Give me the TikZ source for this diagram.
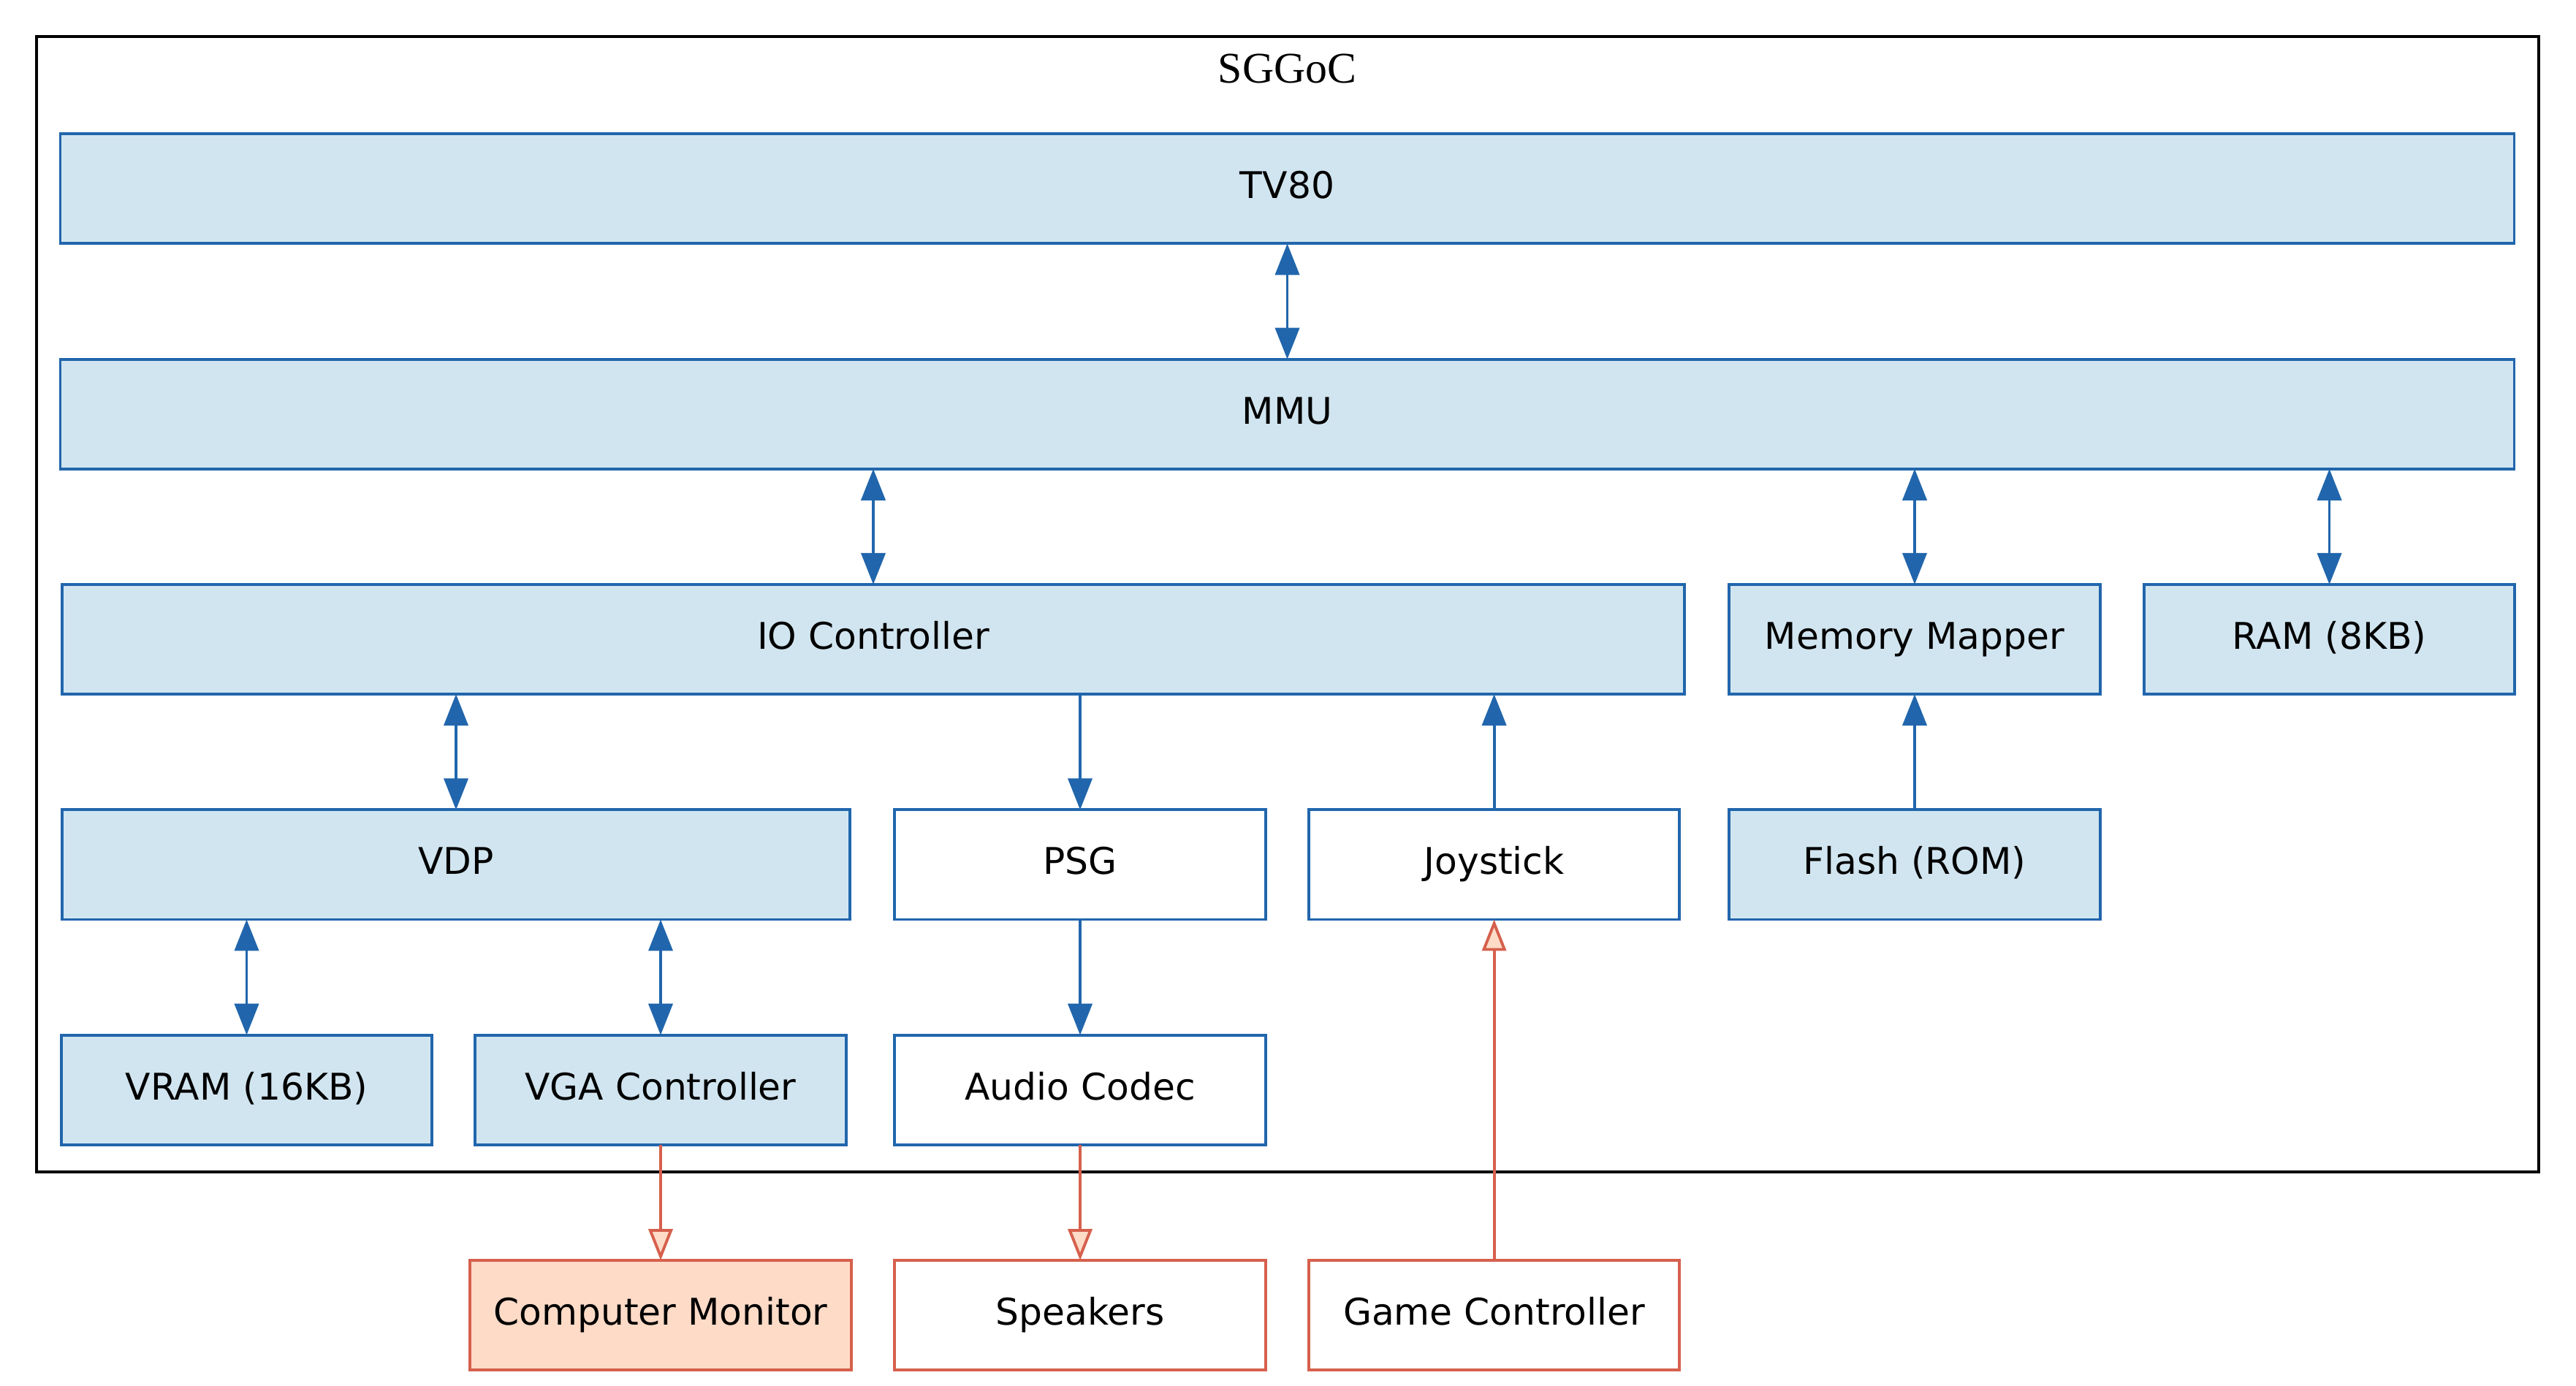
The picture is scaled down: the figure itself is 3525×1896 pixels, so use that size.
\documentclass[tikz,border=0pt]{standalone}
\usepackage{fontspec}
\usetikzlibrary{arrows.meta}
\newfontfamily\labelfont{DejaVu Sans}
\newfontfamily\titlefont{Liberation Serif}
\definecolor{blueline}{HTML}{2166AC}
\definecolor{bluefill}{HTML}{D1E5F0}
\definecolor{redline}{HTML}{D6604D}
\definecolor{redfill}{HTML}{FDDBC7}
\tikzset{
  unit/.style={draw=blueline, line width=1.1pt, rectangle, inner sep=0pt,
    outer sep=0pt, minimum width=5.07cm, minimum height=1.5cm,
    text height=10.5pt, text depth=2.8pt,
    font=\labelfont\fontsize{14.3pt}{17pt}\selectfont},
  core/.style={unit, fill=bluefill},
  plain/.style={unit, fill=white},
  periph/.style={unit, draw=redline, fill=white},
  bus/.style={draw=blueline, line width=1.1pt,
    {Triangle[length=4.3mm,width=3.3mm]}-{Triangle[length=4.3mm,width=3.3mm]}},
  feed/.style={draw=blueline, line width=1.1pt, -{Triangle[length=4.3mm,width=3.3mm]}},
  extfeed/.style={draw=redline, line width=1.1pt,
    -{Triangle[length=4.3mm,width=3.3mm,fill=redfill]}},
}
\begin{document}
\begin{tikzpicture}[x=0.01cm, y=-0.01cm]
\useasboundingbox (0,0) rectangle (3525,1896);

% system boundary
\draw[black, line width=1.1pt] (50,50) rectangle (3474,1604);
\node[font=\titlefont\fontsize{17pt}{20pt}\selectfont, anchor=base] (title) at (1761.5,113) {SGGoC};

% blocks inside the system
\node[core, minimum width=33.56cm] (tv)  at (1761.5,258.3) {TV80};
\node[core, minimum width=33.56cm] (mmu) at (1761.5,566.7) {MMU};
\node[core, minimum width=22.19cm] (io)  at (1195,875) {IO Controller};
\node[core] (mapper) at (2620,875) {Memory Mapper};
\node[core] (ram)    at (3187.5,875) {RAM (8KB)};
\node[core, minimum width=10.78cm] (vdp) at (624,1183.4) {VDP};
\node[plain] (psg)   at (1478,1183.4) {PSG};
\node[plain] (joy)   at (2044.6,1183.4) {Joystick};
\node[core]  (flash) at (2620,1183.4) {Flash (ROM)};
\node[core]  (vram)  at (337.5,1491.7) {VRAM (16KB)};
\node[core]  (vga)   at (904,1491.7) {VGA Controller};
\node[plain] (codec) at (1478,1491.7) {Audio Codec};

% external devices
\node[periph, fill=redfill, minimum width=5.21cm] (monitor) at (904,1800.1) {Computer Monitor};
\node[periph] (speakers) at (1478,1800.1) {Speakers};
\node[periph] (pad)      at (2044.6,1800.1) {Game Controller};

% internal connections
\draw[bus] (tv.south) -- (mmu.north);
\draw[bus] (mmu.south -| io) -- (io.north);
\draw[bus] (mmu.south -| mapper) -- (mapper.north);
\draw[bus] (mmu.south -| ram) -- (ram.north);
\draw[bus] (io.south -| vdp) -- (vdp.north);
\draw[feed] (io.south -| psg) -- (psg.north);
\draw[feed] (joy.north) -- (io.south -| joy);
\draw[feed] (flash.north) -- (mapper.south);
\draw[bus] (vdp.south -| vram) -- (vram.north);
\draw[bus] (vdp.south -| vga) -- (vga.north);
\draw[feed] (psg.south) -- (codec.north);

% external connections
\draw[extfeed] (vga.south) -- (vga.south |- monitor.north);
\draw[extfeed] (codec.south) -- (speakers.north);
\draw[extfeed] (pad.north) -- (joy.south);
\end{tikzpicture}
\end{document}
